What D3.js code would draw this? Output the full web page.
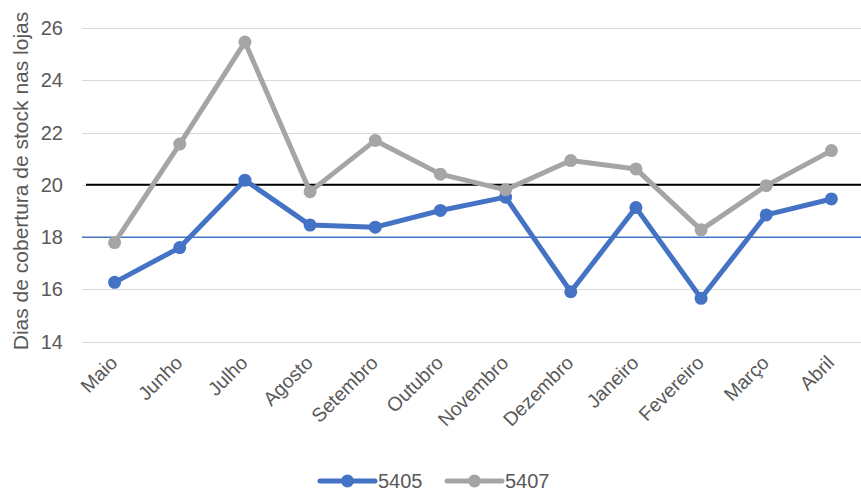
<!DOCTYPE html>
<html>
<head>
<meta charset="utf-8">
<script src="https://cdn.jsdelivr.net/npm/d3@7"></script>
<style>
  body { margin: 0; background: #fff; }
  svg { font-family: "Liberation Sans", Arial, sans-serif; }
</style>
</head>
<body>
<svg width="861" height="492"></svg>
<script>
// Data
var months = ["Maio", "Junho", "Julho", "Agosto", "Setembro", "Outubro",
  "Novembro", "Dezembro", "Janeiro", "Fevereiro", "Março", "Abril"];
var s5405 = [16.27, 17.6, 20.18, 18.46, 18.38, 19.02, 19.53, 15.91, 19.13, 15.66, 18.85, 19.46];
var s5407 = [17.79, 21.56, 25.46, 19.74, 21.7, 20.41, 19.81, 20.93, 20.61, 18.28, 19.97, 21.31];
var yTicks = [14, 16, 18, 20, 22, 24, 26];
var targetBlack = 20;
var targetBlue = 18;

var series = [
  { name: "5405", values: s5405, color: "#4472C4" },
  { name: "5407", values: s5407, color: "#A5A5A5" }
];

var svg = d3.select("svg"),
  margin = { top: 28, right: 0, bottom: 150, left: 82 },
  width = 864 - margin.left,
  height = +svg.attr("height") - margin.top - margin.bottom,
  g = svg.append("g")
    .attr("transform", "translate(" + margin.left + "," + margin.top + ")");

var x = d3.scalePoint().domain(months).range([0, width]).padding(0.5);
var y = d3.scaleLinear().domain([14, 26]).range([height - 0.3, 0]);

// gridlines
g.append("g")
  .selectAll("line")
  .data(yTicks)
  .enter()
  .append("line")
  .attr("x1", 0)
  .attr("x2", width)
  .attr("y1", d => Math.round(y(d)) + 0.5)
  .attr("y2", d => Math.round(y(d)) + 0.5)
  .attr("stroke", "#d9d9d9")
  .attr("stroke-width", 1);

// y tick labels
g.append("g")
  .selectAll("text")
  .data(yTicks)
  .enter()
  .append("text")
  .attr("x", -19)
  .attr("y", d => y(d))
  .attr("dy", "0.35em")
  .attr("text-anchor", "end")
  .attr("fill", "#595959")
  .style("font-size", "20px")
  .text(d => d);

// y title
svg.append("text")
  .attr("transform", "translate(28," + 181 + ") rotate(-90)")
  .attr("text-anchor", "middle")
  .attr("fill", "#595959")
  .style("font-size", "21px")
  .text("Dias de cobertura de stock nas lojas");

// x labels
g.append("g")
  .selectAll("text")
  .data(months)
  .enter()
  .append("text")
  .attr("transform", d => "translate(" + (x(d) + 4) + "," + (height + 22) + ") rotate(-45)")
  .attr("text-anchor", "end")
  .attr("fill", "#595959")
  .style("font-size", "19.5px")
  .text(d => d);

// target lines
g.append("line")
  .attr("x1", 4).attr("x2", width)
  .attr("y1", y(targetBlack)).attr("y2", y(targetBlack))
  .attr("stroke", "#000").attr("stroke-width", 2);
g.append("line")
  .attr("x1", 0).attr("x2", width)
  .attr("y1", y(targetBlue)).attr("y2", y(targetBlue))
  .attr("stroke", "#4472C4").attr("stroke-width", 1.5);

var line = d3.line()
  .x((d, i) => x(months[i]))
  .y(d => y(d));

series.forEach(function(s) {
  var sg = g.append("g");
  sg.append("path")
    .datum(s.values)
    .attr("fill", "none")
    .attr("stroke", s.color)
    .attr("stroke-width", 5)
    .attr("stroke-linejoin", "round")
    .attr("d", line);
  sg.selectAll("circle")
    .data(s.values)
    .enter()
    .append("circle")
    .attr("cx", (d, i) => x(months[i]))
    .attr("cy", d => y(d))
    .attr("r", 6.5)
    .attr("fill", s.color);
});

// legend
var legend = svg.append("g").attr("transform", "translate(320,481)");
series.forEach(function(s, i) {
  var lg = legend.append("g").attr("transform", "translate(" + i * 127 + ",0)");
  lg.append("line")
    .attr("x1", 0).attr("x2", 55)
    .attr("stroke", s.color).attr("stroke-width", 5)
    .attr("stroke-linecap", "round");
  lg.append("circle").attr("cx", 27.5).attr("r", 6.5).attr("fill", s.color);
  lg.append("text")
    .attr("x", 58)
    .attr("dy", "0.35em")
    .attr("fill", "#595959")
    .style("font-size", "20px")
    .text(s.name);
});
</script>
</body>
</html>
